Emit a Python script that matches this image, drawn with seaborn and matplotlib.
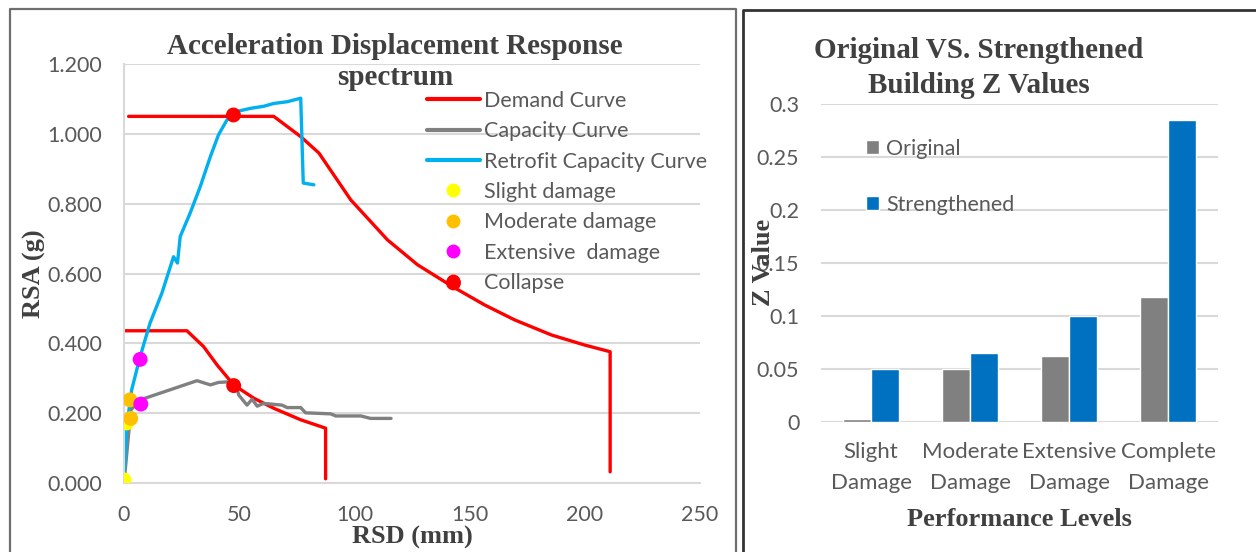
import matplotlib
matplotlib.use("Agg")
import matplotlib.pyplot as plt
from matplotlib.lines import Line2D
import pandas as pd
import seaborn as sns

# ── left chart: acceleration displacement response spectrum ─────────
demand_hi_rsd = [2, 65, 76.7, 84.6, 98.4, 114.4, 127.4, 142.7, 156.5, 169.6, 185.5, 200, 211, 211]
demand_hi_rsa = [1.05, 1.05, 0.992, 0.945, 0.811, 0.696, 0.625, 0.562, 0.510, 0.467, 0.424, 0.395, 0.376, 0.032]

demand_lo_rsd = [0, 27.3, 34.5, 40.4, 47.6, 56.3, 65, 76.7, 87.5, 87.5]
demand_lo_rsa = [0.436, 0.436, 0.391, 0.338, 0.281, 0.243, 0.214, 0.181, 0.157, 0.012]

capacity_rsd = [0, 3, 7, 31.7, 37.5, 41, 46, 48.5, 49.8, 53.4, 55.6, 57.8, 60.6, 68.6,
                70.8, 76.7, 78.8, 89.7, 91.9, 102.8, 107, 115.9]
capacity_rsa = [0, 0.21, 0.238, 0.293, 0.281, 0.288, 0.290, 0.285, 0.252, 0.223, 0.240, 0.220,
                0.228, 0.223, 0.216, 0.216, 0.201, 0.198, 0.192, 0.192, 0.185, 0.185]

retrofit_rsd = [0, 1.2, 3.3, 7, 11.3, 16.4, 21.5, 23.2, 24.4, 28.7, 33.1, 37.5, 41, 44.7,
                49, 54.9, 60.7, 65, 70.9, 76.7, 77.8, 82.4]
retrofit_rsa = [0.009, 0.161, 0.266, 0.362, 0.458, 0.543, 0.648, 0.630, 0.706, 0.773, 0.849,
                0.935, 0.997, 1.040, 1.064, 1.073, 1.079, 1.087, 1.092, 1.102, 0.859, 0.854]

slight_rsd, slight_rsa = [0, 1.2], [0.009, 0.172]
moderate_rsd, moderate_rsa = [2.6, 2.9], [0.238, 0.185]
extensive_rsd, extensive_rsa = [7, 7.3], [0.354, 0.226]
collapse_rsd, collapse_rsa = [47.5, 47.6, 143], [1.054, 0.279, 0.573]

# ── right chart: Z values ────────────────────────────────────────────
levels = ["Slight\nDamage", "Moderate\nDamage", "Extensive\nDamage", "Complete\nDamage"]
z_original = [0.002, 0.050, 0.062, 0.118]
z_strengthened = [0.050, 0.065, 0.100, 0.285]

RED, GREY, CYAN = "#FF0000", "#808080", "#00B0F0"
YELLOW, ORANGE, MAGENTA = "#FFFF00", "#FFC000", "#FF00FF"
BLUE = "#0070C0"
TXT = "#595959"
GRID = "#D9D9D9"

sns.set_theme(style="white")
plt.rcParams["font.family"] = ["Lato", "DejaVu Sans"]
SERIF = "Liberation Serif"

W, H = 1256, 552
fig = plt.figure(figsize=(W / 100, H / 100), dpi=100)


def fx(px):
    return px / W


def fy(py):
    return 1 - py / H


# chart borders
fig.add_artist(Line2D([fx(10), fx(10), fx(736), fx(736)], [0, fy(9), fy(9), 0],
                      color="#6E6E6E", lw=1.6))
fig.add_artist(Line2D([fx(743), fx(743), 1.0], [0, fy(10), fy(10)],
                      color="#333333", lw=2.0))

# ── left axes ────────────────────────────────────────────────────────
ax = fig.add_axes([fx(124), fy(483), fx(700) - fx(124), fy(64) - fy(483)])
lw = 2.4
sns.lineplot(x=demand_hi_rsd, y=demand_hi_rsa, sort=False, estimator=None, color=RED, lw=lw, ax=ax)
sns.lineplot(x=demand_lo_rsd, y=demand_lo_rsa, sort=False, estimator=None, color=RED, lw=lw, ax=ax)
sns.lineplot(x=capacity_rsd, y=capacity_rsa, sort=False, estimator=None, color=GREY, lw=lw, ax=ax)
sns.lineplot(x=retrofit_rsd, y=retrofit_rsa, sort=False, estimator=None, color=CYAN, lw=lw, ax=ax)
for xs, ys, c in [(slight_rsd, slight_rsa, YELLOW), (moderate_rsd, moderate_rsa, ORANGE),
                  (extensive_rsd, extensive_rsa, MAGENTA), (collapse_rsd, collapse_rsa, RED)]:
    sns.scatterplot(x=xs, y=ys, color=c, s=115, edgecolor="none", zorder=5, ax=ax)

ax.set_xlim(0, 250)
ax.set_ylim(0, 1.2)
ax.set_xticks(range(0, 251, 50))
ax.set_yticks([0, 0.2, 0.4, 0.6, 0.8, 1.0, 1.2])
ax.set_yticklabels([f"{v:.3f}" for v in ax.get_yticks()])
ax.yaxis.grid(True, color=GRID, lw=1.5)
ax.set_axisbelow(True)
for s in ["top", "right"]:
    ax.spines[s].set_visible(False)
for s in ["left", "bottom"]:
    ax.spines[s].set_color(GRID)
    ax.spines[s].set_linewidth(1.5)
ax.tick_params(length=0, labelsize=15.5, colors=TXT)
ax.tick_params(axis="y", pad=16)
ax.tick_params(axis="x", pad=16)
ax.set_xlabel("RSD (mm)", family=SERIF, weight="bold", fontsize=19, color="#404040")
ax.set_ylabel("RSA (g)", family=SERIF, weight="bold", fontsize=19, color="#404040")
ax.xaxis.label.set_va("center")
ax.yaxis.label.set_va("center")
ax.xaxis.set_label_coords(0.5, -(537 - 483) / 419)
ax.yaxis.set_label_coords((34 - 124) / 576, 0.5)

handles = [
    Line2D([], [], color=RED, lw=3),
    Line2D([], [], color=GREY, lw=3),
    Line2D([], [], color=CYAN, lw=3),
    Line2D([], [], ls="none", marker="o", ms=10, color=YELLOW, mec="none"),
    Line2D([], [], ls="none", marker="o", ms=10, color=ORANGE, mec="none"),
    Line2D([], [], ls="none", marker="o", ms=10, color=MAGENTA, mec="none"),
    Line2D([], [], ls="none", marker="o", ms=10, color=RED, mec="none"),
]
labels = ["Demand Curve", "Capacity Curve", "Retrofit Capacity Curve", "Slight damage",
          "Moderate damage", "Extensive  damage", "Collapse"]
ax.legend(handles, labels, loc="upper left", bbox_to_anchor=(fx(427), fy(91)),
          bbox_transform=fig.transFigure, frameon=False, fontsize=15.5, labelcolor=TXT,
          handlelength=2.45, handletextpad=0.2, labelspacing=0.48, borderpad=0,
          borderaxespad=0)

fig.text(fx(395), fy(62), "Acceleration Displacement Response\nspectrum", ha="center",
         va="center", family=SERIF, weight="bold", fontsize=21, color="#404040",
         linespacing=1.22)

# ── right axes ───────────────────────────────────────────────────────
ax2 = fig.add_axes([fx(821.5), fy(421.5), fx(1218) - fx(821.5), fy(104) - fy(421.5)])
bars = pd.DataFrame({
    "level": levels * 2,
    "series": ["Original"] * 4 + ["Strengthened"] * 4,
    "z": z_original + z_strengthened,
})
sns.barplot(data=bars, x="level", y="z", hue="series", palette=[GREY, BLUE],
            width=0.566, gap=0, saturation=1, ax=ax2)
ax2.set_ylim(0, 0.3)
ax2.set_yticks([0, 0.05, 0.1, 0.15, 0.2, 0.25, 0.3])
ax2.set_yticklabels([f"{v:g}" for v in ax2.get_yticks()])
ax2.yaxis.grid(True, color=GRID, lw=1.5)
ax2.set_axisbelow(True)
for s in ax2.spines.values():
    s.set_visible(False)
ax2.tick_params(length=0, labelsize=15.5, colors=TXT)
ax2.tick_params(axis="y", pad=16)
ax2.tick_params(axis="x", pad=15, labelsize=16)
for t in ax2.get_xticklabels():
    t.set_linespacing(1.65)
ax2.set_xlabel("Performance Levels", family=SERIF, weight="bold", fontsize=19, color="#404040")
ax2.set_ylabel("Z Value", family=SERIF, weight="bold", fontsize=19, color="#404040")
ax2.xaxis.label.set_va("center")
ax2.yaxis.label.set_va("center")
ax2.xaxis.set_label_coords(0.5, -(520 - 421.5) / 317.5)
ax2.yaxis.set_label_coords((764 - 821.5) / 396.5, (421.5 - 262) / 317.5)

h2, l2 = ax2.get_legend_handles_labels()
ax2.legend(h2, l2, loc="upper left", bbox_to_anchor=(fx(866), fy(139)),
           bbox_transform=fig.transFigure, frameon=False, fontsize=15.5, labelcolor=TXT,
           handlelength=0.62, handleheight=0.62, handletextpad=0.3, labelspacing=1.66,
           borderpad=0, borderaxespad=0)

fig.text(fx(979), fy(68), "Original VS. Strengthened\nBuilding Z Values", ha="center",
         va="center", family=SERIF, weight="bold", fontsize=21, color="#404040",
         linespacing=1.36)

fig.savefig("out.png", dpi=100)
